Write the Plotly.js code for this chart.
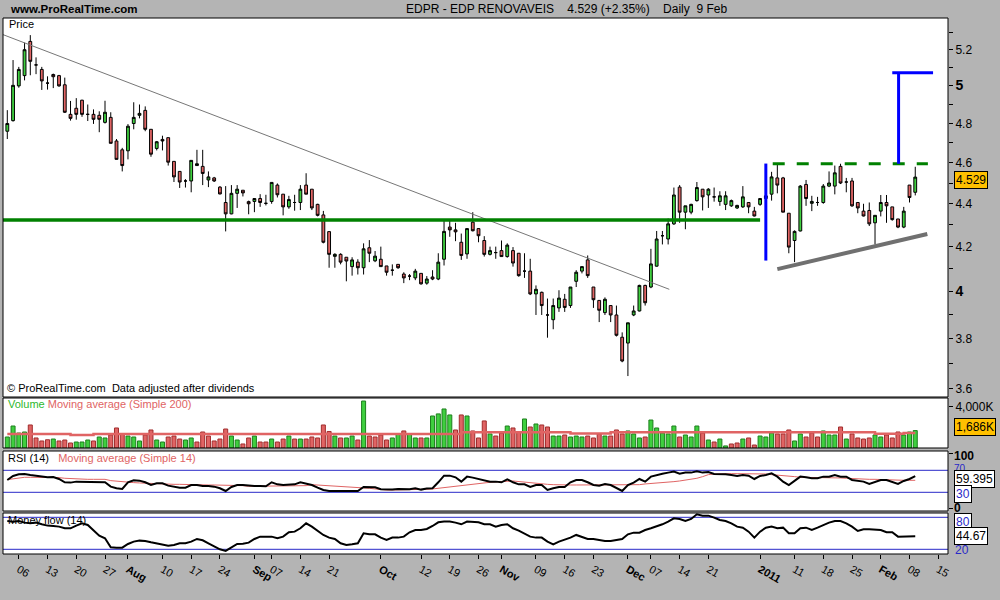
<!DOCTYPE html>
<html><head><meta charset="utf-8">
<script src="https://cdn.plot.ly/plotly-3.0.1.min.js"></script>
<style>html,body{margin:0;padding:0;background:#b4b4b4}#chart{width:1000px;height:600px}</style>
</head><body><div id="chart"></div>
<script>
// ---- DATA (EDPR daily, 2 Jul 2010 - 9 Feb 2011, one entry per trading day) ----
const openP = [4.76,4.815,5.0,5.056,5.247,5.115,5.09,5.015,5.062,5.056,
 5.006,4.848,4.88,4.923,4.848,4.848,4.843,4.806,4.832,4.71,
 4.665,4.66,4.8,4.843,4.869,4.77,4.672,4.718,4.727,4.607,
 4.557,4.51,4.51,4.586,4.582,4.515,4.525,4.48,4.406,4.352,
 4.45,4.465,4.41,4.411,4.425,4.402,4.411,4.49,4.446,4.385,
 4.406,4.406,4.49,4.47,4.397,4.347,4.269,4.156,4.165,4.152,
 4.11,4.13,4.105,4.195,4.136,4.143,4.113,4.094,4.12,4.077,
 4.068,4.06,4.08,4.037,4.064,4.055,4.143,4.29,4.277,4.22,
 4.167,4.313,4.283,4.228,4.165,4.173,4.182,4.155,4.182,4.17,
 4.09,4.09,3.99,3.997,3.9,3.88,3.93,3.967,3.94,4.045,
 4.09,4.14,4.02,3.962,3.91,3.94,3.9,3.807,3.783,3.9,
 3.917,4.027,4.02,4.112,4.25,4.235,4.305,4.48,4.36,4.36,
 4.415,4.47,4.442,4.433,4.411,4.397,4.39,4.38,4.385,4.406,
 4.365,4.397,4.425,4.446,4.525,4.525,4.355,4.228,4.272,4.493,
 4.402,4.406,4.406,4.485,4.485,4.582,4.505,4.51,4.406,4.365,
 4.368,4.31,4.365,4.406,4.385,4.328,4.29,4.49,4.455];
const highP = [4.87,5.142,5.104,5.24,5.283,5.157,5.104,5.052,5.067,5.06,
 5.045,4.919,4.934,4.925,4.9,4.874,4.864,4.92,4.859,4.72,
 4.675,4.797,4.912,4.9,4.89,4.77,4.71,4.737,4.727,4.607,
 4.557,4.519,4.612,4.665,4.665,4.557,4.53,4.485,4.485,4.49,
 4.49,4.465,4.415,4.425,4.446,4.443,4.503,4.498,4.446,4.438,
 4.443,4.49,4.548,4.47,4.40,4.366,4.269,4.17,4.17,4.152,
 4.152,4.143,4.215,4.23,4.18,4.2,4.113,4.12,4.12,4.085,
 4.077,4.1,4.08,4.068,4.094,4.17,4.325,4.325,4.31,4.26,
 4.283,4.36,4.285,4.248,4.2,4.2,4.228,4.215,4.198,4.17,
 4.17,4.145,4.027,4.0,3.97,3.97,4.006,3.99,4.02,4.094,
 4.11,4.16,4.02,3.962,3.975,3.94,3.94,3.827,3.867,3.94,
 4.03,4.03,4.19,4.272,4.272,4.33,4.478,4.49,4.39,4.40,
 4.505,4.47,4.475,4.478,4.46,4.46,4.42,4.395,4.485,4.406,
 4.385,4.425,4.44,4.555,4.59,4.53,4.355,4.275,4.49,4.515,
 4.438,4.433,4.495,4.557,4.586,4.595,4.525,4.525,4.406,4.4,
 4.406,4.345,4.442,4.442,4.385,4.328,4.385,4.49,4.58];
const lowP = [4.72,4.81,4.99,5.03,5.058,5.064,4.978,4.98,4.988,4.995,
 4.855,4.815,4.82,4.835,4.813,4.798,4.755,4.8,4.698,4.617,
 4.557,4.617,4.77,4.827,4.76,4.63,4.662,4.662,4.586,4.505,
 4.476,4.478,4.455,4.586,4.49,4.48,4.505,4.445,4.27,4.35,
 4.38,4.435,4.35,4.36,4.385,4.392,4.40,4.43,4.345,4.376,
 4.367,4.37,4.446,4.37,4.34,4.215,4.105,4.105,4.12,4.045,
 4.07,4.075,4.075,4.13,4.13,4.11,4.07,4.07,4.1,4.037,
 4.05,4.05,4.03,4.03,4.05,4.05,4.115,4.245,4.225,4.14,
 4.145,4.27,4.22,4.155,4.16,4.145,4.155,4.15,4.11,4.065,
 4.06,3.985,3.9,3.9,3.805,3.84,3.913,3.913,3.93,4.02,
 4.08,4.06,3.93,3.87,3.9,3.87,3.81,3.705,3.65,3.895,
 3.915,3.94,4.015,4.11,4.21,4.21,4.30,4.31,4.28,4.35,
 4.41,4.368,4.38,4.41,4.39,4.37,4.385,4.375,4.38,4.355,
 4.34,4.39,4.42,4.415,4.45,4.36,4.17,4.13,4.27,4.39,
 4.365,4.39,4.40,4.48,4.445,4.495,4.455,4.385,4.355,4.34,
 4.295,4.21,4.34,4.31,4.32,4.285,4.285,4.406,4.44];
const closeP = [4.80,5.003,5.09,5.2,5.135,5.115,5.027,5.015,5.05,5.0,
 4.859,4.827,4.848,4.848,4.848,4.822,4.822,4.859,4.698,4.617,
 4.586,4.786,4.832,4.853,4.77,4.643,4.706,4.71,4.603,4.53,
 4.505,4.51,4.612,4.595,4.547,4.53,4.51,4.447,4.352,4.45,
 4.47,4.452,4.4,4.425,4.406,4.402,4.503,4.443,4.385,4.42,
 4.406,4.47,4.446,4.38,4.345,4.22,4.165,4.165,4.13,4.135,
 4.14,4.105,4.19,4.17,4.157,4.11,4.085,4.094,4.105,4.06,
 4.068,4.09,4.034,4.055,4.055,4.13,4.27,4.277,4.268,4.16,
 4.283,4.273,4.25,4.165,4.182,4.173,4.155,4.207,4.126,4.07,
 4.09,3.99,4.01,3.94,3.9,3.94,3.972,3.932,4.02,4.085,
 4.11,4.07,3.965,3.92,3.967,3.9,3.815,3.71,3.867,3.917,
 4.027,3.952,4.122,4.235,4.25,4.305,4.442,4.36,4.39,4.397,
 4.478,4.433,4.47,4.433,4.438,4.438,4.415,4.392,4.433,4.385,
 4.342,4.425,4.438,4.53,4.49,4.36,4.198,4.27,4.485,4.425,
 4.411,4.406,4.485,4.5,4.55,4.5,4.505,4.39,4.38,4.342,
 4.305,4.345,4.406,4.39,4.325,4.29,4.365,4.43,4.529];
const volumeK = [1066,2130,1450,1550,2230,970,680,800,870,680,
 775,485,580,580,775,680,1066,970,1260,1940,
 1360,1160,1066,680,1260,1745,775,580,1066,1160,
 870,775,970,580,1550,1160,680,870,1840,1160,
 775,390,970,1160,580,580,870,580,870,1160,
 870,870,870,1066,970,2230,1600,1160,970,970,
 1160,775,4550,1160,1066,1260,775,970,1360,1650,
 1360,970,970,970,3100,3300,3780,3200,1745,3200,
 3100,1650,970,2620,1360,1160,1450,2130,1940,1550,
 2810,2035,2325,2230,2035,1160,1160,1260,1066,1160,
 1066,1160,970,1360,1160,1160,1745,1360,1650,1360,
 970,1066,2710,1940,1450,1360,2130,1066,1260,1066,
 2130,1450,775,580,870,200,390,485,870,970,
 290,1160,1066,1450,1360,1360,1745,680,1360,1066,
 1450,1066,1650,1260,1260,2035,870,1360,970,870,
 970,1260,1066,1260,970,1550,1260,1550,1686];
const volumeMA200 = [1360,1360,1360,1360,1360,1360,1360,1360,1360,1360,
 1360,1260,1260,1260,1260,1360,1360,1360,1360,1360,
 1360,1360,1360,1360,1360,1360,1360,1360,1360,1360,
 1360,1360,1360,1360,1360,1360,1360,1360,1360,1360,
 1360,1360,1360,1360,1360,1360,1360,1360,1360,1360,
 1360,1360,1360,1360,1360,1360,1360,1360,1360,1360,
 1360,1360,1360,1360,1360,1360,1360,1360,1360,1360,
 1360,1360,1360,1360,1360,1360,1360,1360,1360,1530,
 1530,1530,1530,1530,1530,1530,1530,1530,1530,1530,
 1530,1530,1530,1530,1530,1530,1530,1530,1415,1415,
 1415,1415,1415,1415,1415,1530,1530,1530,1530,1530,
 1530,1530,1530,1530,1530,1530,1530,1530,1530,1530,
 1530,1530,1530,1530,1530,1530,1530,1530,1530,1530,
 1530,1530,1530,1530,1530,1530,1530,1530,1530,1530,
 1530,1530,1530,1530,1530,1530,1530,1530,1530,1530,
 1530,1385,1385,1385,1385,1385,1453,1453,1453];
const rsi14 = [52.4,59.7,62.7,63.3,61.5,59.7,57.9,57.3,57.9,54.2,
 48.2,47.6,49.4,49.4,49.4,49.4,48.2,48.2,40.3,37.3,
 36.1,48.2,51.8,51.2,48.2,43.3,46.4,46.4,42.1,39.7,
 38.5,38.5,43.3,43.3,41.5,41.5,40.3,37.3,32.4,39.7,
 43.3,43.3,42.1,41.5,41.5,40.9,48.2,44.5,43.3,44.5,
 44.5,48.2,46.4,43.3,38.5,34.2,32.4,32.4,32.4,33.0,
 33.0,32.4,39.7,39.1,39.1,35.5,34.9,34.9,36.1,35.5,
 35.5,37.3,34.9,36.7,37.3,48.2,60.3,60.3,57.3,49.4,
 58.5,56.7,54.2,51.8,49.4,49.4,48.2,53.6,48.2,44.5,
 44.5,39.7,43.3,43.3,34.2,37.3,39.7,39.7,48.2,52.4,
 52.4,48.2,43.3,42.1,45.2,43.3,38.5,32.4,43.3,47.6,
 54.2,49.4,58.5,61.5,63.9,65.8,67.6,63.9,65.8,65.8,
 68.2,65.8,67.0,63.3,63.3,62.7,61.5,59.7,61.5,60.3,
 54.2,59.7,61.5,64.5,58.5,49.4,43.3,50.6,58.5,57.3,
 55.5,55.5,58.5,58.5,61.5,58.5,58.5,52.4,50.6,49.4,
 45.2,49.4,52.4,52.4,48.2,45.2,50.6,54.2,59.395];
const rsiMA14 = [53.0,54.8,56.7,57.3,57.3,57.3,57.3,57.3,57.3,56.7,
 55.5,54.8,54.2,53.6,53.6,53.6,53.6,53.6,51.2,50.0,
 48.8,48.2,47.6,47.0,46.4,46.4,45.8,45.2,44.5,44.5,
 44.5,44.0,43.9,43.3,43.3,43.3,43.3,43.3,43.3,43.3,
 43.3,42.1,40.9,40.9,40.9,40.9,40.9,42.1,42.1,42.1,
 42.1,42.1,42.1,43.9,43.3,42.7,42.1,42.1,41.5,40.9,
 39.7,39.1,38.5,37.3,36.1,34.9,34.2,34.2,34.2,34.2,
 34.9,34.9,34.9,35.5,36.1,37.3,38.5,39.7,40.9,42.7,
 43.9,45.2,46.4,48.2,48.2,48.8,48.8,50.0,50.6,49.4,
 48.2,47.6,47.0,45.8,44.5,43.9,43.3,42.7,43.3,43.3,
 43.3,43.3,43.3,43.3,43.3,43.3,43.3,43.3,42.7,43.3,
 43.9,45.2,45.8,46.4,47.6,48.2,49.4,50.6,51.8,53.0,
 55.5,58.5,62.1,63.3,63.9,63.9,63.9,63.9,63.9,63.9,
 63.9,63.9,63.3,62.1,61.5,60.3,59.1,58.5,57.3,57.3,
 57.3,56.7,56.7,56.7,56.1,56.1,55.5,54.8,54.2,53.6,
 53.6,53.6,53.0,53.0,53.0,52.4,51.8,51.8,51.8];
const moneyFlow14 = [73.1,71.9,73.1,70.0,68.75,70.0,66.9,64.4,63.75,62.5,
 59.4,59.4,64.4,68.75,65.6,56.25,45.6,40.6,23.75,23.1,
 23.1,30.0,34.4,36.25,35.6,33.1,31.25,29.4,26.9,28.1,
 31.25,31.25,34.4,39.4,36.9,31.25,25.0,20.0,16.9,23.1,
 30.0,30.6,32.5,39.4,43.75,43.75,43.75,40.6,43.75,51.9,
 53.1,59.4,68.75,62.5,54.4,46.9,41.9,39.4,31.25,28.1,
 29.4,31.25,50.0,48.1,48.1,41.9,37.5,41.9,41.9,43.75,
 51.9,56.25,56.25,58.1,63.75,70.6,71.9,71.9,70.0,66.9,
 71.9,71.9,70.6,66.9,66.9,62.5,65.6,66.9,59.4,55.0,
 50.0,43.75,41.9,41.9,34.4,29.4,34.4,37.5,41.9,46.9,
 43.75,39.4,39.4,37.5,35.6,35.6,37.5,39.4,48.1,51.25,
 51.25,56.25,59.4,62.5,66.9,71.9,78.1,76.9,73.1,76.9,
 85.6,83.1,83.1,79.4,75.0,73.1,68.75,62.5,60.6,53.1,
 41.9,53.1,60.6,62.5,59.4,60.6,50.0,50.0,59.4,60.6,
 56.25,60.6,65.6,70.0,73.1,73.1,68.75,62.5,54.4,57.5,
 57.5,56.25,56.25,51.9,51.9,43.75,43.75,43.75,44.67];

// x-axis ticks (trading-day index) and their labels
const tickIdx  = [2,7,12,17,21,27,32,37,43,46,51,56,65,72,77,82,86,92,97,102,108,112,117,122,131,137,142,147,152,157,162];
const tickText = ['06','13','20','27','<b>Aug</b>','10','17','24','<b>Sep</b>','07','14','21','<b>Oct</b>','12','19','26','<b>Nov</b>','09','16','23','<b>Dec</b>','07','14','21','<b>2011</b>','11','18','25','<b>Feb</b>','08','15'];
const priceTicks = [3.6,3.8,4,4.2,4.4,4.6,4.8,5,5.2];
const priceTickText = ['3.6','3.8','<b><span style="font-size:14px">4</span></b>','4.2','4.4','4.6','4.8','<b><span style="font-size:14px">5</span></b>','5.2'];
const priceMinorTicks = [3.7,3.9,4.1,4.3,4.5,4.7,4.9,5.1,5.3];
const rsiBounds = [0, 100];

// hand-drawn lines (trading-day index, price)
const downTrendX = [-0.92, 115.2], downTrendY = [5.288, 4.01];
const supportX = [-0.92, 131.0],   supportY = [4.323, 4.323];
const necklineX = [133.2, 160.2],  necklineY = [4.595, 4.595];
const blueBarX = [132, 132],       blueBarY = [4.137, 4.596];
const targetStemX = [155.1, 155.1], targetStemY = [4.595, 5.072];
const targetTopX = [154.0, 161.1],  targetTopY = [5.072, 5.072];
const risingX = [134.0, 160.1],     risingY = [4.099, 4.258];

const lastClose = 4.529, lastVol = 1686, lastRsi = 59.395, lastMf = 44.67;

// ---- BUILD ----
const idx = openP.map((_, i) => i);
const upCol = '#3fcf3f', dnCol = '#e06464';
const volUp = volumeK.map((_, i) => i === 0 || closeP[i] >= closeP[i - 1]);
const volFill = volUp.map(u => u ? upCol : dnCol);
const volLine = volUp.map(u => u ? '#1d7f1d' : '#a02c2c');

const traces = [
  {type:'candlestick', x:idx, open:openP, high:highP, low:lowP, close:closeP,
   xaxis:'x', yaxis:'y', whiskerwidth:0, hoverinfo:'skip',
   increasing:{line:{color:'#000', width:1}, fillcolor:upCol},
   decreasing:{line:{color:'#000', width:1}, fillcolor:dnCol}},
  {type:'scatter', mode:'lines', x:downTrendX, y:downTrendY, xaxis:'x', yaxis:'y', line:{color:'#777', width:1}, hoverinfo:'skip'},
  {type:'scatter', mode:'lines', x:supportX, y:supportY, xaxis:'x', yaxis:'y', line:{color:'#008000', width:3.5}, hoverinfo:'skip'},
  {type:'scatter', mode:'lines', x:necklineX, y:necklineY, xaxis:'x', yaxis:'y', line:{color:'#008000', width:3, dash:'12px,12px'}, hoverinfo:'skip'},
  {type:'scatter', mode:'lines', x:blueBarX, y:blueBarY, xaxis:'x', yaxis:'y', line:{color:'#0000ff', width:3}, hoverinfo:'skip'},
  {type:'scatter', mode:'lines', x:targetStemX, y:targetStemY, xaxis:'x', yaxis:'y', line:{color:'#0000ff', width:3}, hoverinfo:'skip'},
  {type:'scatter', mode:'lines', x:targetTopX, y:targetTopY, xaxis:'x', yaxis:'y', line:{color:'#0000ff', width:3}, hoverinfo:'skip'},
  {type:'scatter', mode:'lines', x:risingX, y:risingY, xaxis:'x', yaxis:'y', line:{color:'#707070', width:4}, hoverinfo:'skip'},
  {type:'bar', x:idx, y:volumeK, xaxis:'x', yaxis:'y2', width:0.7,
   marker:{color:volFill, line:{color:volLine, width:1}}, hoverinfo:'skip'},
  {type:'scatter', mode:'lines', x:idx, y:volumeMA200, xaxis:'x', yaxis:'y2', line:{color:'#e06464', width:2.5, shape:'hv'}, hoverinfo:'skip'},
  {type:'scatter', mode:'lines', x:idx, y:rsiMA14, xaxis:'x', yaxis:'y3', line:{color:'#e06464', width:1}, hoverinfo:'skip'},
  {type:'scatter', mode:'lines', x:idx, y:rsi14, xaxis:'x', yaxis:'y3', line:{color:'#000', width:2}, hoverinfo:'skip'},
  {type:'scatter', mode:'lines', x:idx, y:moneyFlow14, xaxis:'x', yaxis:'y4', line:{color:'#000', width:2}, hoverinfo:'skip'}
];

// pixel -> paper helpers (plot area: x 3..948, y 18..554)
const xp = px => (px - 3) / 945;
const yp = py => (554 - py) / 536;
const dom = {price:[yp(397), 1], vol:[yp(448), yp(398)], rsi:[yp(511), yp(451)], mf:[0, yp(513)]};

const axFont = {family:'Liberation Sans, Arial, sans-serif', size:12, color:'#000'};
const baseY = {side:'right', showgrid:false, zeroline:false, showline:false, ticks:'outside', ticklen:4, tickcolor:'#000', tickfont:axFont, fixedrange:true};

const layout = {
  width:1000, height:600,
  margin:{l:3, r:52, t:18, b:46, pad:0},
  paper_bgcolor:'#b4b4b4', plot_bgcolor:'#b4b4b4',
  showlegend:false, hovermode:false,
  xaxis:{domain:[0,1], range:[-0.75,163.7], anchor:'y4', tickmode:'array', tickvals:tickIdx, ticktext:tickText,
    ticks:'outside', ticklen:4, tickcolor:'#000', showgrid:false, zeroline:false, showline:false,
    tickfont:{family:'Liberation Sans, Arial, sans-serif', size:11, color:'#000'},
    rangeslider:{visible:false}, fixedrange:true},
  yaxis:Object.assign({}, baseY, {domain:dom.price, type:'log', range:[Math.log10(3.568), Math.log10(5.382)],
    tickmode:'array', tickvals:priceTicks, ticktext:priceTickText,
    minor:{tickmode:'array', tickvals:priceMinorTicks, ticks:'outside', ticklen:4, tickcolor:'#000', showgrid:false}}),
  yaxis2:Object.assign({}, baseY, {domain:dom.vol, range:[0,4842], tickmode:'array', tickvals:[4000], ticktext:['4,000K']}),
  yaxis3:Object.assign({}, baseY, {domain:dom.rsi, range:[-4.0,105.1], tickmode:'array', tickvals:rsiBounds, ticktext:['','']}),
  yaxis4:Object.assign({}, baseY, {domain:dom.mf, range:[11.19,88.06], tickmode:'array', tickvals:[], ticks:''}),
  shapes:[], annotations:[]
};

// panels: white background + black frame
for (const k of ['price','vol','rsi','mf']) {
  const d = dom[k];
  layout.shapes.push({type:'rect', xref:'paper', yref:'paper', x0:0, x1:1, y0:d[0], y1:d[1], fillcolor:'#fff', line:{width:0}, layer:'below'});
  layout.shapes.push({type:'rect', xref:'paper', yref:'paper', x0:0, x1:1, y0:d[0], y1:d[1], fillcolor:'rgba(0,0,0,0)', line:{color:'#000', width:1}, layer:'above'});
}
// RSI / MF reference levels
for (const [ax, v] of [['y3',70],['y3',30],['y4',80],['y4',20]]) {
  layout.shapes.push({type:'line', xref:'paper', yref:ax, x0:0, x1:1, y0:v, y1:v, line:{color:'#2828c8', width:1}, layer:'below'});
}

const A = layout.annotations;
const txt = (text, xpx, ypx, o = {}) => A.push(Object.assign({text, xref:'paper', yref:'paper', x:xp(xpx), y:yp(ypx),
  xanchor:'left', yanchor:'middle', showarrow:false, font:{family:'Liberation Sans, Arial, sans-serif', size:11, color:'#000'}}, o));

// header
txt('www.ProRealTime.com', 8, 9, {font:{family:'Liberation Sans, Arial, sans-serif', size:11.5, color:'#000', weight:'bold'}});
txt('EDPR - EDP RENOVAVEIS\u00a0\u00a0\u00a0\u00a0' + lastClose.toFixed(3) + ' (+2.35%)\u00a0\u00a0\u00a0\u00a0Daily\u00a0\u00a09 Feb', 566, 9,
  {xanchor:'center', font:{family:'Liberation Sans, Arial, sans-serif', size:12, color:'#000'}});
// panel titles
txt('Price', 7, 24.5);
txt('\u00a9 ProRealTime.com\u00a0\u00a0Data adjusted after dividends', 5, 388);
txt('<span style="color:#2db82d">Volume</span> <span style="color:#e06464">Moving average (Simple 200)</span>', 6, 404.5);
txt('RSI (14)\u00a0\u00a0\u00a0<span style="color:#e06464">Moving average (Simple 14)</span>', 6, 458);
txt('Money flow (14)', 6, 520);

// right-hand value boxes
const rfont = (c, s = 12) => ({family:'Liberation Sans, Arial, sans-serif', size:s, color:c});
const box = (text, ypx, o) => txt(text, 954, ypx, Object.assign({borderpad:1, borderwidth:1}, o));
box(lastClose.toFixed(3), 179.5, {bgcolor:'#ffc000', bordercolor:'#000', font:rfont('#000')});
box(lastVol.toLocaleString('en-US') + 'K', 427, {bgcolor:'#ffc000', bordercolor:'#000', font:rfont('#000')});
box('<b>' + rsiBounds[1] + '</b>', 455.5, {borderwidth:0, borderpad:0, font:rfont('#000', 12)});
box('70', 468, {borderwidth:0, borderpad:0, font:rfont('#2828c8', 10)});
box(lastRsi.toFixed(3), 479, {bgcolor:'#fff', bordercolor:'#000', font:rfont('#000')});
box('30', 494, {bgcolor:'#fff', bordercolor:'#000', font:rfont('#2828c8')});
box('<b>' + rsiBounds[0] + '</b>', 508, {borderwidth:0, borderpad:0, font:rfont('#000', 12)});
box('80', 522, {bgcolor:'#fff', bordercolor:'#000', font:rfont('#2828c8')});
box(lastMf.toFixed(2), 536, {bgcolor:'#fff', bordercolor:'#000', font:rfont('#000')});
box('20', 550, {borderwidth:0, font:rfont('#2828c8')});

Plotly.newPlot('chart', traces, layout, {staticPlot:true, displayModeBar:false});
</script></body></html>
